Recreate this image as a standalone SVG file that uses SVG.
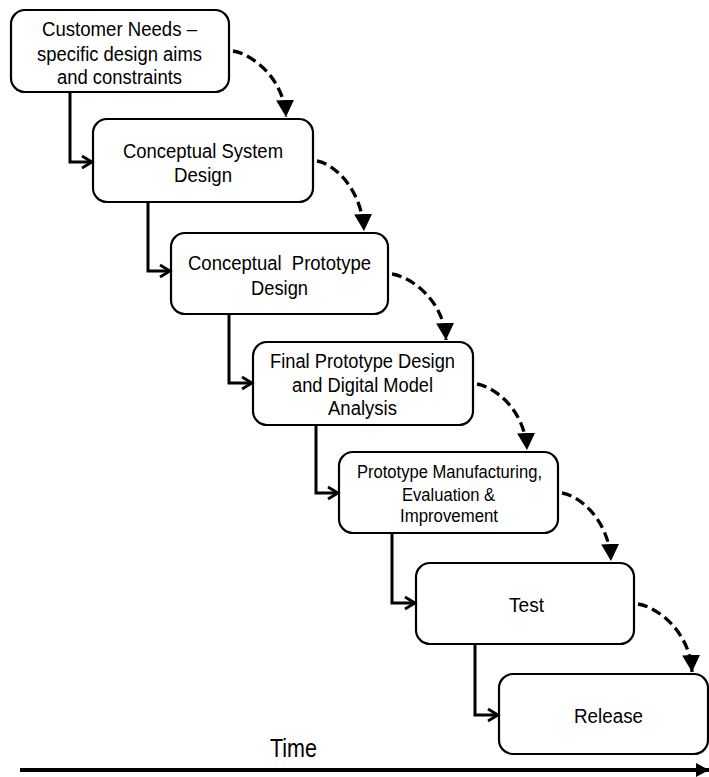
<svg xmlns="http://www.w3.org/2000/svg" width="709" height="777" viewBox="0 0 709 777">
<style>
.box{fill:#fff;stroke:#000;stroke-width:2.2}
.t{font-family:"Liberation Sans",Arial,sans-serif;font-size:20px;fill:#000;text-anchor:middle}
.ts{font-size:17.5px}
.solid{fill:none;stroke:#000;stroke-width:3}
.dash{fill:none;stroke:#000;stroke-width:3.3;stroke-dasharray:10 5}
</style>
<defs>
<marker id="open" markerUnits="userSpaceOnUse" markerWidth="16" markerHeight="16" refX="13" refY="8" orient="auto" viewBox="0 0 16 16">
<path d="M3,2 L13,8 L3,14" fill="none" stroke="#000" stroke-width="2.8"/>
</marker>
<marker id="tri" markerUnits="userSpaceOnUse" markerWidth="18" markerHeight="20" refX="17" refY="10" orient="auto" viewBox="0 0 18 20">
<path d="M0,1 L17,10 L0,19 Z" fill="#000"/>
</marker>
<marker id="tri2" markerUnits="userSpaceOnUse" markerWidth="14" markerHeight="16" refX="13" refY="8" orient="auto" viewBox="0 0 14 16">
<path d="M0,1 L13,8 L0,15 Z" fill="#000"/>
</marker>
</defs>

<g id="n1">
<rect class="box" x="11" y="10" width="218" height="82" rx="14"/>
<text class="t" x="119.5" y="36" textLength="155" lengthAdjust="spacingAndGlyphs">Customer Needs –</text>
<text class="t" x="119.5" y="60.5" textLength="165" lengthAdjust="spacingAndGlyphs">specific design aims</text>
<text class="t" x="119.5" y="84" textLength="125" lengthAdjust="spacingAndGlyphs">and constraints</text>
</g>
<g id="n2">
<rect class="box" x="93" y="119" width="220" height="83" rx="14"/>
<text class="t" x="203" y="157.5" textLength="160" lengthAdjust="spacingAndGlyphs">Conceptual System</text>
<text class="t" x="203" y="182" textLength="58" lengthAdjust="spacingAndGlyphs">Design</text>
</g>
<g id="n3">
<rect class="box" x="171" y="233" width="217" height="81" rx="14"/>
<text class="t" x="279.5" y="269.5" xml:space="preserve" textLength="183" lengthAdjust="spacingAndGlyphs">Conceptual  Prototype</text>
<text class="t" x="279.5" y="294.5" textLength="57" lengthAdjust="spacingAndGlyphs">Design</text>
</g>
<g id="n4">
<rect class="box" x="253" y="342" width="220" height="83" rx="14"/>
<text class="t" x="362.5" y="367.5" textLength="185" lengthAdjust="spacingAndGlyphs">Final Prototype Design</text>
<text class="t" x="362.5" y="391.5" textLength="141" lengthAdjust="spacingAndGlyphs">and Digital Model</text>
<text class="t" x="362.5" y="415" textLength="69" lengthAdjust="spacingAndGlyphs">Analysis</text>
</g>
<g id="n5">
<rect class="box" x="339" y="452" width="219" height="81" rx="14"/>
<text class="t ts" x="449.5" y="478" textLength="185" lengthAdjust="spacingAndGlyphs">Prototype Manufacturing,</text>
<text class="t ts" x="448.5" y="500.5" textLength="93" lengthAdjust="spacingAndGlyphs">Evaluation &amp;</text>
<text class="t ts" x="449" y="522" textLength="98" lengthAdjust="spacingAndGlyphs">Improvement</text>
</g>
<g id="n6">
<rect class="box" x="416" y="563" width="218" height="81" rx="14"/>
<text class="t" x="526.5" y="611.5" textLength="35" lengthAdjust="spacingAndGlyphs">Test</text>
</g>
<g id="n7">
<rect class="box" x="499" y="674" width="209" height="80" rx="14"/>
<text class="t" x="608.5" y="722.5" textLength="69" lengthAdjust="spacingAndGlyphs">Release</text>
</g>

<g id="connectors">
<path class="solid" marker-end="url(#open)" d="M70,92 V162 H92"/>
<path class="solid" marker-end="url(#open)" d="M148,202 V271 H170"/>
<path class="solid" marker-end="url(#open)" d="M229,314 V383 H252"/>
<path class="solid" marker-end="url(#open)" d="M316,425 V493 H338"/>
<path class="solid" marker-end="url(#open)" d="M392,533 V603 H415"/>
<path class="solid" marker-end="url(#open)" d="M475,644 V715 H498"/>

<path class="dash" marker-end="url(#tri)" d="M233,51 C252,54 284,78 286,117"/>
<path class="dash" marker-end="url(#tri)" d="M317,161 C335,164 362,190 364,231"/>
<path class="dash" marker-end="url(#tri)" d="M392,274 C411,277 444,300 446,340"/>
<path class="dash" marker-end="url(#tri)" d="M477,384 C495,387 525,410 527,450"/>
<path class="dash" marker-end="url(#tri)" d="M562,493 C580,496 609,520 611,561"/>
<path class="dash" marker-end="url(#tri)" d="M638,604 C657,607 690,631 692,672"/>

<path d="M20,770 H709" fill="none" stroke="#000" stroke-width="4" marker-end="url(#tri2)"/>
</g>
<text class="t" x="293.5" y="757" style="font-size:26px" textLength="47" lengthAdjust="spacingAndGlyphs">Time</text>
</svg>
